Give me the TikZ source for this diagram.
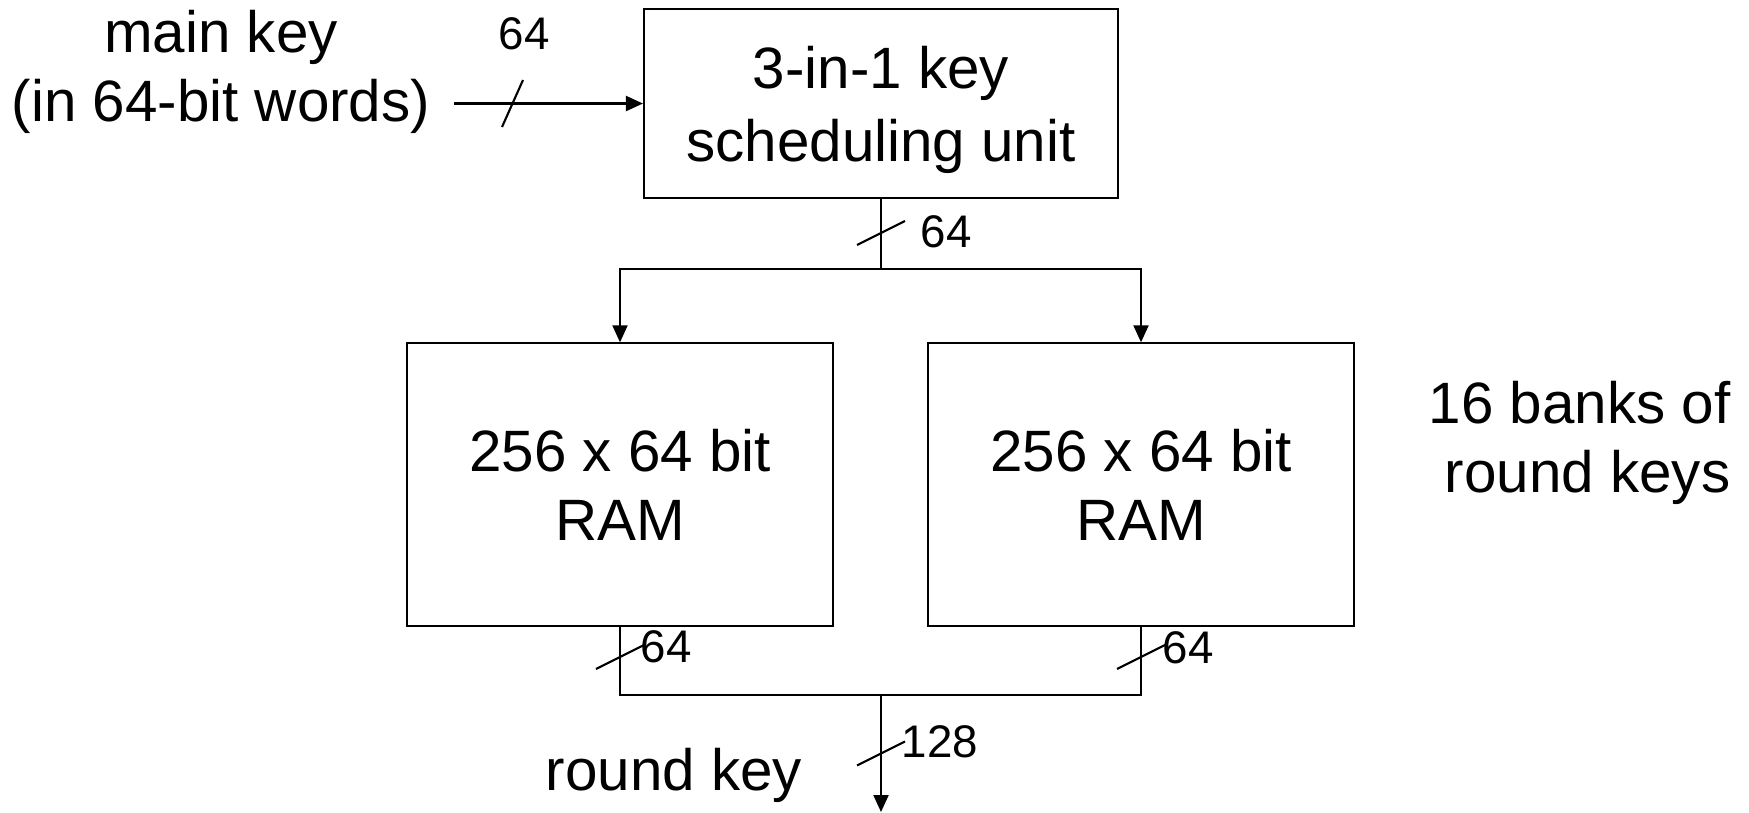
\documentclass[tikz,border=0pt]{standalone}
\usepackage{fontspec}
\setmainfont{Liberation Sans}
\usetikzlibrary{positioning,arrows.meta}

\begin{document}
\begin{tikzpicture}[
  x=0.1mm, y=-0.1mm,
  font=\fontsize{16.6}{19.6}\selectfont,
  unit/.style={draw, line width=0.6pt, align=center, inner sep=0pt},
  ram/.style={unit, minimum width=42.6mm, minimum height=28.3mm},
  lbl/.style={inner sep=0pt, align=center},
  width/.style={inner sep=0pt, font=\fontsize{13}{15}\selectfont},
  wire/.style={line width=0.6pt},
  arr/.style={wire, -{Triangle[length=1.7mm, width=1.5mm]}},
  bus/.pic={\draw[wire] (-24,12) -- (24,-12);},
  busin/.pic={\draw[wire] (-10,23) -- (11,-24);}]

\useasboundingbox (0,0) rectangle (1749,812);

\node[unit, minimum width=47.4mm, minimum height=18.95mm] (ksu) at (881,103.5)
  {\raisebox{-1.8pt}[\height][\depth]{\parbox{45mm}{\centering
   3-in-1 key\\[1pt]scheduling unit}}};

\node[ram, below=14.3mm of ksu, xshift=-26.1mm] (raml) {256 x 64 bit\\RAM};
\node[ram, below=14.3mm of ksu, xshift=26mm] (ramr) {256 x 64 bit\\RAM};

\node[lbl] (mkey) at (221,72) {main key\\(in 64-bit words)};
\node[lbl, align=right, anchor=east] (banks) at (1731,443) {16 banks of\\round keys};
\node[lbl] (rkey) at (674,775) {round key};

% bus widths
\node[width] (w0) at (524,34) {64};
\node[width] (w1) at (946,232) {64};
\node[width] (w2) at (666,647) {64};
\node[width] (w3) at (1188,648) {64};
\node[width] (w4) at (940,742) {128};

\coordinate (kin) at (454,103.5);
\coordinate (spl) at (881,269);
\coordinate (mrg) at (881,695);
\coordinate (kout) at (881,812);

\draw[arr] (kin) -- (ksu);
\draw[wire] (ksu.south) -- (spl);
\draw[arr] (spl) -| (raml.north);
\draw[arr] (spl) -| (ramr.north);
\draw[wire] (raml.south) |- (mrg) -| (ramr.south);
\draw[arr] (mrg) -- (kout);

\pic at (512,104) {busin};
\pic at (881,233) {bus};
\pic at (620,657) {bus};
\pic at (1141,657) {bus};
\pic at (881,753.5) {bus};
\end{tikzpicture}
\end{document}
